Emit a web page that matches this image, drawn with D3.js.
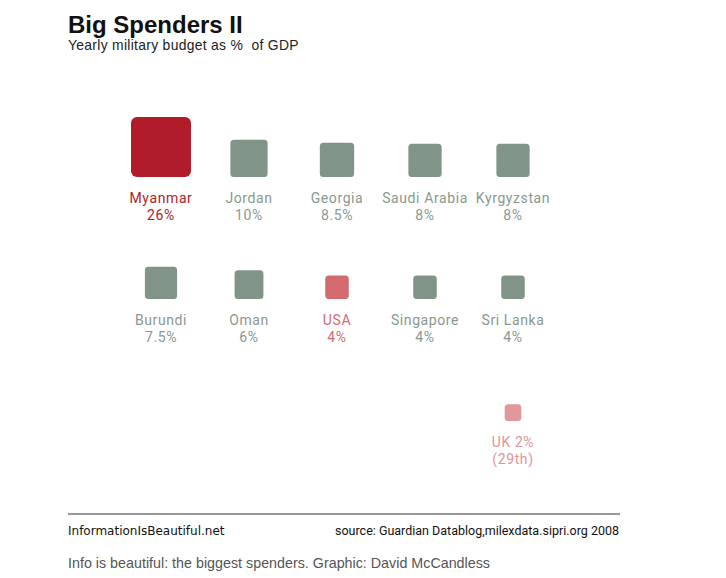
<!DOCTYPE html>
<html>
<head>
<meta charset="utf-8">
<script src="https://cdn.jsdelivr.net/npm/d3@7"></script>
<style>
  body { margin: 0; background: #fff; }
</style>
</head>
<body>
<div id="viz"></div>
<script>
// data
const COUNTRIES = ["Myanmar", "Jordan", "Georgia", "Saudi Arabia", "Kyrgyzstan",
                   "Burundi", "Oman", "USA", "Singapore", "Sri Lanka", "UK"];
const VALUES    = [26, 10, 8.5, 8, 8, 7.5, 6, 4, 4, 4, 2];
const VALUE_LABELS = ["26%", "10%", "8.5%", "8%", "8%", "7.5%", "6%", "4%", "4%", "4%", "(29th)"];
const COLS = [0, 1, 2, 3, 4, 0, 1, 2, 3, 4, 4];
const ROWS = [0, 0, 0, 0, 0, 1, 1, 1, 1, 1, 2];
const KINDS = ["top", "other", "other", "other", "other", "other", "other", "usa", "other", "other", "uk"];

const width = 726, height = 578;
const FILL = {top: "#b11c2a", other: "#809587", usa: "#d36b6f", uk: "#e2979b"};
const TEXT = {top: "#b11c2a", other: "#8a988f", usa: "#d36b6f", uk: "#e0959a"};

var svg = d3.select("#viz").append("svg").attr("width", width).attr("height", height);

var x = d3.scalePoint().domain([0, 1, 2, 3, 4]).range([161, 513]);
var y = d3.scalePoint().domain([0, 1, 2]).range([177, 421]); // square bottoms
var size = d3.scaleSqrt().domain([0, 26]).range([0, 60]);

var data = COUNTRIES.map((c, i) => ({
    name: c, value: VALUES[i], vlabel: VALUE_LABELS[i],
    col: COLS[i], row: ROWS[i], kind: KINDS[i]
}));

// title
svg.append("text").attr("x", 68).attr("y", 33)
    .style("font-family", "Liberation Sans, Arial, sans-serif")
    .style("font-weight", "bold").style("font-size", "24px")
    .attr("fill", "#111").text("Big Spenders II");
svg.append("text").attr("x", 68).attr("y", 50)
    .style("font-family", "Liberation Sans, Arial, sans-serif")
    .style("font-size", "13.9px").style("letter-spacing", "0.3px")
    .attr("fill", "#222").text("Yearly military budget as %\u00a0 of GDP");

// squares
svg.selectAll("rect.sq").data(data).enter().append("rect")
    .attr("class", "sq")
    .attr("x", d => x(d.col) - size(d.value) / 2)
    .attr("y", d => y(d.row) - size(d.value))
    .attr("width", d => size(d.value))
    .attr("height", d => size(d.value))
    .attr("rx", d => d.kind == "top" ? 6 : 3.5)
    .attr("fill", d => FILL[d.kind]);

// labels
var labels = svg.selectAll("g.lab").data(data).enter().append("g")
    .attr("class", "lab")
    .attr("transform", d => "translate(" + x(d.col) + "," + (y(d.row) + 26) + ")")
    .style("font-family", "Roboto, sans-serif")
    .style("font-size", "14px")
    .style("letter-spacing", "0.6px")
    .attr("text-anchor", "middle")
    .attr("fill", d => TEXT[d.kind]);
labels.append("text").attr("y", 0)
    .text(d => d.kind == "uk" ? d.name + " " + d.value + "%" : d.name);
labels.append("text").attr("y", 17).text(d => d.vlabel);

// footer
svg.append("line").attr("x1", 68).attr("x2", 620).attr("y1", 514).attr("y2", 514)
    .attr("stroke", "#333").attr("stroke-width", 1);
svg.append("text").attr("x", 68).attr("y", 535)
    .style("font-family", "DejaVu Sans, sans-serif").style("font-size", "12px")
    .attr("fill", "#111").text("InformationIsBeautiful.net");
svg.append("text").attr("x", 619).attr("y", 535).attr("text-anchor", "end")
    .style("font-family", "Roboto, sans-serif").style("font-size", "12.5px")
    .style("letter-spacing", "0px")
    .attr("fill", "#111").text("source: Guardian Datablog,milexdata.sipri.org 2008");
svg.append("text").attr("x", 68).attr("y", 568)
    .style("font-family", "Liberation Sans, Arial, sans-serif").style("font-size", "14.3px")
    .attr("fill", "#555").text("Info is beautiful: the biggest spenders. Graphic: David McCandless");
</script>
</body>
</html>
